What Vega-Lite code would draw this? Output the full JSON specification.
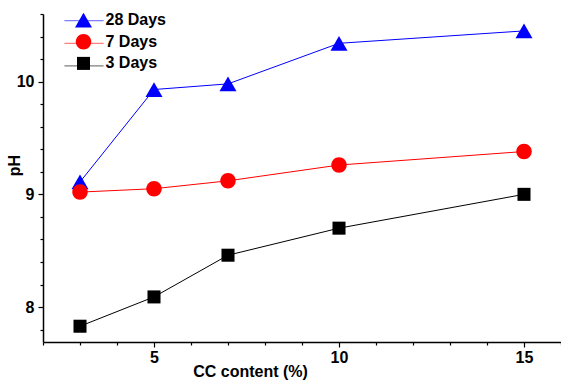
{
  "$schema": "https://vega.github.io/schema/vega-lite/v6.json",
  "width": 518,
  "height": 328,
  "autosize": {"type": "none"},
  "padding": {"left": 43, "top": 14, "right": 0, "bottom": 40},
  "background": "white",
  "config": {
    "view": {"stroke": null},
    "font": "Liberation Sans",
    "axis": {
      "domainColor": "black",
      "domainWidth": 1.5,
      "tickColor": "black",
      "tickWidth": 1.2,
      "labelFontSize": 16,
      "labelFontWeight": "bold",
      "labelColor": "black",
      "labelFont": "Liberation Sans",
      "titleFont": "Liberation Sans",
      "titleFontSize": 16,
      "titleFontWeight": "bold",
      "titleColor": "black",
      "grid": false,
      "labelOverlap": false,
      "labelFlush": false
    }
  },
  "data": {
    "values": [
      {"series": "28 Days", "cc": 3, "ph": 9.11},
      {"series": "28 Days", "cc": 5, "ph": 9.93},
      {"series": "28 Days", "cc": 7, "ph": 9.98},
      {"series": "28 Days", "cc": 10, "ph": 10.34},
      {"series": "28 Days", "cc": 15, "ph": 10.45},
      {"series": "7 Days", "cc": 3, "ph": 9.02},
      {"series": "7 Days", "cc": 5, "ph": 9.05},
      {"series": "7 Days", "cc": 7, "ph": 9.12},
      {"series": "7 Days", "cc": 10, "ph": 9.26},
      {"series": "7 Days", "cc": 15, "ph": 9.38},
      {"series": "3 Days", "cc": 3, "ph": 7.83},
      {"series": "3 Days", "cc": 5, "ph": 8.09},
      {"series": "3 Days", "cc": 7, "ph": 8.46},
      {"series": "3 Days", "cc": 10, "ph": 8.7},
      {"series": "3 Days", "cc": 15, "ph": 9.0}
    ]
  },
  "encoding": {
    "x": {
      "field": "cc",
      "type": "quantitative",
      "scale": {"domain": [2, 16], "nice": false, "zero": false},
      "axis": {
        "title": "CC content (%)",
        "values": [2, 3, 4, 5, 6, 7, 8, 9, 10, 11, 12, 13, 14, 15, 16],
        "labelExpr": "datum.value % 5 == 0 ? format(datum.value, 'd') : ''",
        "tickSize": {"condition": {"test": "datum.value % 5 == 0", "value": 5}, "value": 3},
        "labelPadding": 2,
        "titleX": 207,
        "titleY": 21,
        "titleAnchor": "start",
        "titleAlign": "center",
        "titleBaseline": "top"
      }
    },
    "y": {
      "field": "ph",
      "type": "quantitative",
      "scale": {"domain": [7.69, 10.6], "nice": false, "zero": false},
      "axis": {
        "title": "pH",
        "values": [7.8, 8, 8.2, 8.4, 8.6, 8.8, 9, 9.2, 9.4, 9.6, 9.8, 10, 10.2, 10.4, 10.6],
        "labelExpr": "abs(datum.value - round(datum.value)) < 0.001 ? format(datum.value, 'd') : ''",
        "tickSize": {"condition": {"test": "abs(datum.value - round(datum.value)) < 0.001", "value": 5}, "value": 3},
        "labelPadding": 4,
        "titleX": -21,
        "titleY": 151,
        "titleAlign": "center",
        "titleBaseline": "bottom"
      }
    }
  },
  "layer": [
    {
      "mark": {"type": "line", "strokeWidth": 1},
      "encoding": {
        "stroke": {
          "field": "series",
          "type": "nominal",
          "scale": {"domain": ["28 Days", "7 Days", "3 Days", "none"], "range": ["#0000ff", "#ff0000", "#000000", "#ffffff"]},
          "legend": {
            "title": null,
            "orient": "none",
            "legendX": 31.5,
            "legendY": -2.8,
            "padding": 0,
            "values": ["28 Days", "7 Days", "3 Days"],
            "symbolType": "M-2.3,0H2.3",
            "symbolSize": 290,
            "symbolStrokeWidth": 1.2,
            "symbolOpacity": 0.5,
            "labelExpr": "''",
            "labelFontSize": 16,
            "labelFontWeight": "bold",
            "labelOffset": 13,
            "rowPadding": 4.6
          }
        }
      }
    },
    {
      "mark": {"type": "point", "filled": true, "size": 290, "opacity": 1},
      "encoding": {
        "color": {
          "field": "series",
          "type": "nominal",
          "scale": {"domain": ["28 Days", "7 Days", "3 Days"], "range": ["#0000ff", "#ff0000", "#000000"]},
          "legend": {
            "title": null,
            "orient": "none",
            "legendX": 31.5,
            "legendY": -2.8,
            "padding": 0,
            "symbolSize": 290,
            "symbolOpacity": 1,
            "symbolStrokeWidth": 0,
            "labelFontSize": 16,
            "labelFontWeight": "bold",
            "labelColor": "black",
            "labelFont": "Liberation Sans",
            "labelOffset": 13,
            "rowPadding": 4.6
          }
        },
        "shape": {
          "field": "series",
          "type": "nominal",
          "scale": {
            "domain": ["28 Days", "7 Days", "3 Days"],
            "range": ["triangle-up", "M-0.91,0A0.91,0.91,0,1,0,0.91,0A0.91,0.91,0,1,0,-0.91,0Z", "M-0.765,-0.765H0.765V0.765H-0.765Z"]
          },
          "legend": {
            "title": null,
            "orient": "none",
            "legendX": 31.5,
            "legendY": -2.8,
            "padding": 0,
            "symbolSize": 290,
            "symbolOpacity": 1,
            "symbolStrokeWidth": 0,
            "labelFontSize": 16,
            "labelFontWeight": "bold",
            "labelColor": "black",
            "labelFont": "Liberation Sans",
            "labelOffset": 13,
            "rowPadding": 4.6
          }
        }
      }
    }
  ]
}
